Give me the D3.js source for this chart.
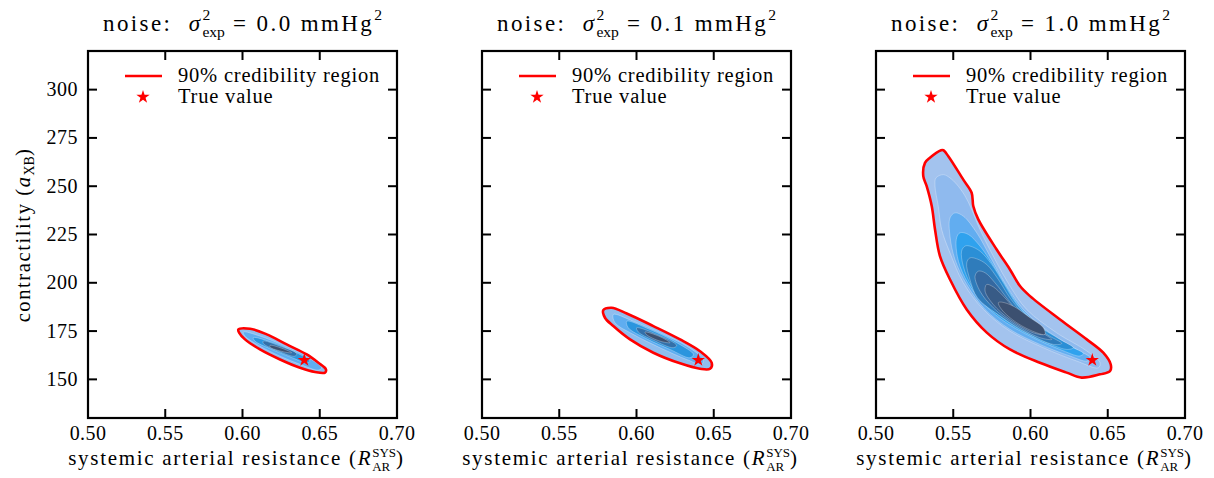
<!DOCTYPE html>
<html><head><meta charset="utf-8">
<script src="https://cdn.jsdelivr.net/npm/d3@7"></script>
<style>
body{margin:0;background:#fff;}
svg{display:block;}
text{font-family:"Liberation Serif","DejaVu Serif",serif;fill:#000;}
</style></head>
<body>
<svg id="chart" width="1214" height="478"></svg>
<script>
// ---------------- data ----------------
const xDomain = [0.5, 0.7];
const yDomain = [130, 320];
const xTicks = [0.50, 0.55, 0.60, 0.65, 0.70];
const yTicks = [150, 175, 200, 225, 250, 275, 300];
const noiseLabels = ["0.0", "0.1", "1.0"];
const trueValue = [0.64, 160];
const legendLabels = ["90% credibility region", "True value"];

// panel 1 (noise 0.0) nested density levels, outer = 90% region
const p1Levels = [
  [[0.5973,175.8],[0.6049,176.2],[0.6157,173.3],[0.6286,168.1],[0.6416,162.9],[0.6491,158.6],[0.6540,155.2],[0.6534,153.5],[0.6469,153.8],[0.6372,156.0],[0.6243,160.3],[0.6113,165.5],[0.6016,170.7],[0.5979,174.1]],
  [[0.6005,174.5],[0.6113,172.4],[0.6264,167.6],[0.6416,161.7],[0.6512,156.0],[0.6491,154.8],[0.6372,157.8],[0.6243,162.0],[0.6113,167.2],[0.6016,172.4]],
  [[0.6070,171.6],[0.6199,169.0],[0.6329,164.6],[0.6437,159.5],[0.6416,158.6],[0.6307,161.7],[0.6178,165.9],[0.6081,169.8]],
  [[0.6135,169.8],[0.6243,167.2],[0.6351,163.3],[0.6340,162.0],[0.6232,164.6],[0.6135,168.6]],
  [[0.6178,167.6],[0.6275,165.5],[0.6318,163.8],[0.6264,164.3],[0.6178,166.7]]
];
// panel 2 (noise 0.1)
const p2Levels = [
  [[0.5785,185.8],[0.5839,187.1],[0.5937,184.1],[0.6109,177.6],[0.6282,170.7],[0.6411,164.6],[0.6487,158.6],[0.6476,155.5],[0.6411,155.5],[0.6282,158.3],[0.6109,163.8],[0.5958,170.7],[0.5850,177.6],[0.5796,181.9]],
  [[0.5850,183.6],[0.5979,180.1],[0.6152,174.1],[0.6325,167.2],[0.6432,160.3],[0.6422,157.8],[0.6325,160.3],[0.6152,166.4],[0.5979,173.3],[0.5861,179.3]],
  [[0.5937,180.1],[0.6087,175.8],[0.6260,169.0],[0.6368,162.9],[0.6346,161.2],[0.6217,165.5],[0.6066,171.0],[0.5947,176.7]],
  [[0.6001,176.7],[0.6131,173.3],[0.6260,167.6],[0.6238,166.4],[0.6109,170.3],[0.6012,174.5]],
  [[0.6055,174.5],[0.6152,172.1],[0.6217,169.0],[0.6152,169.8],[0.6066,173.1]]
];
// panel 3 (noise 1.0)
const p3Levels = [
  [[0.5421,268.6],[0.5349,264.7],[0.5317,262.1],[0.5306,255.2],[0.5328,250.0],[0.5361,239.6],[0.5382,227.6],[0.5414,213.8],[0.5479,201.7],[0.5587,186.2],[0.5717,174.2],[0.5867,165.5],[0.6061,158.6],[0.6234,153.5],[0.6331,150.9],[0.6450,152.6],[0.6515,154.3],[0.6519,157.8],[0.6471,163.8],[0.6364,170.7],[0.6191,181.0],[0.5997,193.1],[0.5932,198.3],[0.5867,206.9],[0.5781,217.2],[0.5662,232.8],[0.5630,239.6],[0.5619,246.6],[0.5565,253.4],[0.5468,265.5],[0.5436,268.6]],
  [[0.5436,256.0],[0.5388,254.3],[0.5382,250.0],[0.5403,239.7],[0.5425,227.6],[0.5479,215.5],[0.5565,200.0],[0.5695,186.2],[0.5867,175.0],[0.6083,166.4],[0.6299,159.5],[0.6439,156.0],[0.6450,158.6],[0.6364,164.7],[0.6169,174.1],[0.5975,186.2],[0.5867,198.3],[0.5770,212.1],[0.5673,227.6],[0.5619,238.0],[0.5576,245.0],[0.5522,251.0],[0.5479,254.3]],
  [[0.5511,236.2],[0.5479,233.6],[0.5479,224.1],[0.5511,212.1],[0.5587,199.1],[0.5706,186.2],[0.5867,175.9],[0.6061,168.1],[0.6256,162.1],[0.6364,159.5],[0.6385,161.2],[0.6299,165.5],[0.6126,174.1],[0.5954,186.2],[0.5846,198.3],[0.5749,212.1],[0.5652,225.9],[0.5565,234.5]],
  [[0.5544,225.9],[0.5522,223.3],[0.5526,213.8],[0.5576,202.6],[0.5673,191.4],[0.5813,181.0],[0.5997,172.4],[0.6191,165.5],[0.6320,162.1],[0.6342,163.4],[0.6256,167.2],[0.6083,175.9],[0.5932,187.1],[0.5835,199.1],[0.5749,210.3],[0.5673,219.0],[0.5598,225.0]],
  [[0.5576,219.0],[0.5554,216.4],[0.5565,208.6],[0.5619,198.3],[0.5727,187.9],[0.5878,178.4],[0.6061,170.7],[0.6234,165.5],[0.6277,166.4],[0.6191,170.7],[0.6040,178.4],[0.5911,188.8],[0.5824,200.0],[0.5749,209.5],[0.5673,216.4],[0.5608,219.0]],
  [[0.5608,212.9],[0.5587,210.3],[0.5608,201.7],[0.5657,192.2],[0.5803,182.8],[0.5975,174.1],[0.6148,168.1],[0.6202,168.6],[0.6105,173.3],[0.5975,181.9],[0.5867,192.2],[0.5792,201.7],[0.5716,209.5],[0.5652,212.4]],
  [[0.5662,206.0],[0.5641,203.4],[0.5673,195.7],[0.5759,187.1],[0.5900,178.4],[0.6061,171.6],[0.6137,170.7],[0.6061,175.0],[0.5932,183.6],[0.5846,192.2],[0.5770,200.0],[0.5706,205.2]],
  [[0.5716,199.1],[0.5706,195.7],[0.5759,188.8],[0.5867,181.0],[0.6018,174.1],[0.6083,173.3],[0.6018,177.6],[0.5911,185.3],[0.5824,193.1],[0.5759,197.9]],
  [[0.5792,189.7],[0.5813,186.2],[0.5911,179.3],[0.6040,174.1],[0.6094,173.3],[0.6083,176.7],[0.5997,181.9],[0.5889,187.9],[0.5813,190.0]]
];
const levelColors5 = ["#8fbdee", "#5fadf0", "#2b95de", "#3270aa", "#3c5070"];
const levelColors9 = ["#a3c3ee", "#8fbaee", "#62adf0", "#2fa2ee", "#2b8fd6", "#2f7cbb", "#3468a0", "#385b86", "#3c5070"];
const panelLevels = [p1Levels, p2Levels, p3Levels];
const panelColors = [levelColors5, levelColors5, levelColors9];

// ---------------- layout ----------------
const panelLeft = [88, 482, 876];
const pw = 309, plotTop = 51, plotBottom = 418;
const svg = d3.select("#chart");

// rich text helper: pieces placed sequentially, "stack" pieces start at previous piece's x
function rich(parent, pieces, x, y, size, anchor, spacing) {
  const g = parent.append("g");
  let cursor = 0, prevStart = 0, prevEnd = 0, maxEnd = 0;
  pieces.forEach(p => {
    const t = g.append("text")
      .attr("font-size", size * (p.scale || 1))
      .attr("font-style", p.italic ? "italic" : "normal")
      .attr("y", p.shift || 0)
      .style("white-space", "pre")
      .style("letter-spacing", (p.scale ? 0 : (spacing || 0)) + "px")
      .text(p.text);
    const w = t.node().getComputedTextLength();
    let start = p.stack ? prevStart : cursor;
    t.attr("x", start);
    const end = start + w;
    if (p.stack) { cursor = Math.max(prevEnd, end); }
    else { cursor = end; }
    prevStart = start; prevEnd = end;
    maxEnd = Math.max(maxEnd, cursor);
  });
  const off = anchor === "middle" ? -maxEnd / 2 : (anchor === "end" ? -maxEnd : 0);
  g.attr("transform", `translate(${x + off},${y})`);
  return g;
}

panelLeft.forEach((left, i) => {
  const x = d3.scaleLinear().domain(xDomain).range([left, left + pw]);
  const y = d3.scaleLinear().domain(yDomain).range([plotBottom, plotTop]);
  const g = svg.append("g");
  const line = d3.line().x(d => x(d[0])).y(d => y(d[1])).curve(d3.curveCatmullRomClosed.alpha(0.5));

  // density levels
  panelLevels[i].forEach((lev, k) => {
    g.append("path").attr("d", line(lev))
      .attr("fill", panelColors[i][k])
      .attr("stroke", k === 0 ? "none" : "rgba(255,255,255,0.4)")
      .attr("stroke-width", 0.7);
  });
  // 90% region outline
  g.append("path").attr("d", line(panelLevels[i][0]))
    .attr("fill", "none").attr("stroke", "#ff0000").attr("stroke-width", 2.6)
    .attr("stroke-linejoin", "round");
  // true value star
  g.append("path").attr("d", d3.symbol(d3.symbolStar).size(55)())
    .attr("transform", `translate(${x(trueValue[0])},${y(trueValue[1])})`)
    .attr("fill", "#ff0000");

  // axes: inward ticks on all sides
  const tl = 9;
  const ax = g.append("g").attr("stroke", "#000").attr("stroke-width", 2);
  xTicks.forEach(t => {
    ax.append("line").attr("x1", x(t)).attr("x2", x(t)).attr("y1", plotBottom).attr("y2", plotBottom - tl);
    ax.append("line").attr("x1", x(t)).attr("x2", x(t)).attr("y1", plotTop).attr("y2", plotTop + tl);
  });
  yTicks.forEach(t => {
    ax.append("line").attr("y1", y(t)).attr("y2", y(t)).attr("x1", left).attr("x2", left + tl);
    ax.append("line").attr("y1", y(t)).attr("y2", y(t)).attr("x1", left + pw).attr("x2", left + pw - tl);
  });
  g.append("rect").attr("x", left).attr("y", plotTop).attr("width", pw).attr("height", plotBottom - plotTop)
    .attr("fill", "none").attr("stroke", "#000").attr("stroke-width", 2.2);

  // tick labels
  xTicks.forEach(t => {
    g.append("text").attr("x", x(t)).attr("y", 440).attr("text-anchor", "middle")
      .attr("font-size", 20).style("letter-spacing", "0.4px").text(d3.format(".2f")(t));
  });
  if (i === 0) {
    yTicks.forEach(t => {
      g.append("text").attr("x", left - 10).attr("y", y(t) + 6.5).attr("text-anchor", "end")
        .attr("font-size", 20).style("letter-spacing", "0.5px").text(t);
    });
    const yl = g.append("g").attr("transform", "translate(30,235) rotate(-90)");
    rich(yl, [
      {text: "contractility ("},
      {text: "a", italic: true},
      {text: "XB", scale: 0.68, shift: 4},
      {text: ")"}
    ], 0, 0, 20.5, "middle", 1.6);
  }
  // x axis label
  rich(g, [
    {text: "systemic arterial resistance ("},
    {text: "R", italic: true},
    {text: "SYS", scale: 0.62, shift: -8},
    {text: "AR", scale: 0.62, shift: 6, stack: true},
    {text: ")"}
  ], left + pw / 2 - 6, 465, 21, "middle", 1.7);

  // title
  rich(g, [
    {text: "noise:  "},
    {text: "σ", italic: true},
    {text: "2", scale: 0.68, shift: -11},
    {text: "exp", scale: 0.68, shift: 6, stack: true},
    {text: " = " + noiseLabels[i] + " mmHg"},
    {text: "2", scale: 0.68, shift: -11}
  ], left + pw / 2, 31, 23, "middle", 2.4);

  // legend
  const lx = left + 37;
  g.append("line").attr("x1", lx).attr("x2", lx + 37).attr("y1", 76).attr("y2", 76)
    .attr("stroke", "#ff0000").attr("stroke-width", 2.6);
  g.append("path").attr("d", d3.symbol(d3.symbolStar).size(55)())
    .attr("transform", `translate(${lx + 18},97)`).attr("fill", "#ff0000");
  g.append("text").attr("x", left + 90).attr("y", 82).attr("font-size", 20.5)
    .style("letter-spacing", "0.8px").text(legendLabels[0]);
  g.append("text").attr("x", left + 90).attr("y", 102.5).attr("font-size", 20.5)
    .style("letter-spacing", "0.8px").text(legendLabels[1]);
});
</script>
</body></html>
